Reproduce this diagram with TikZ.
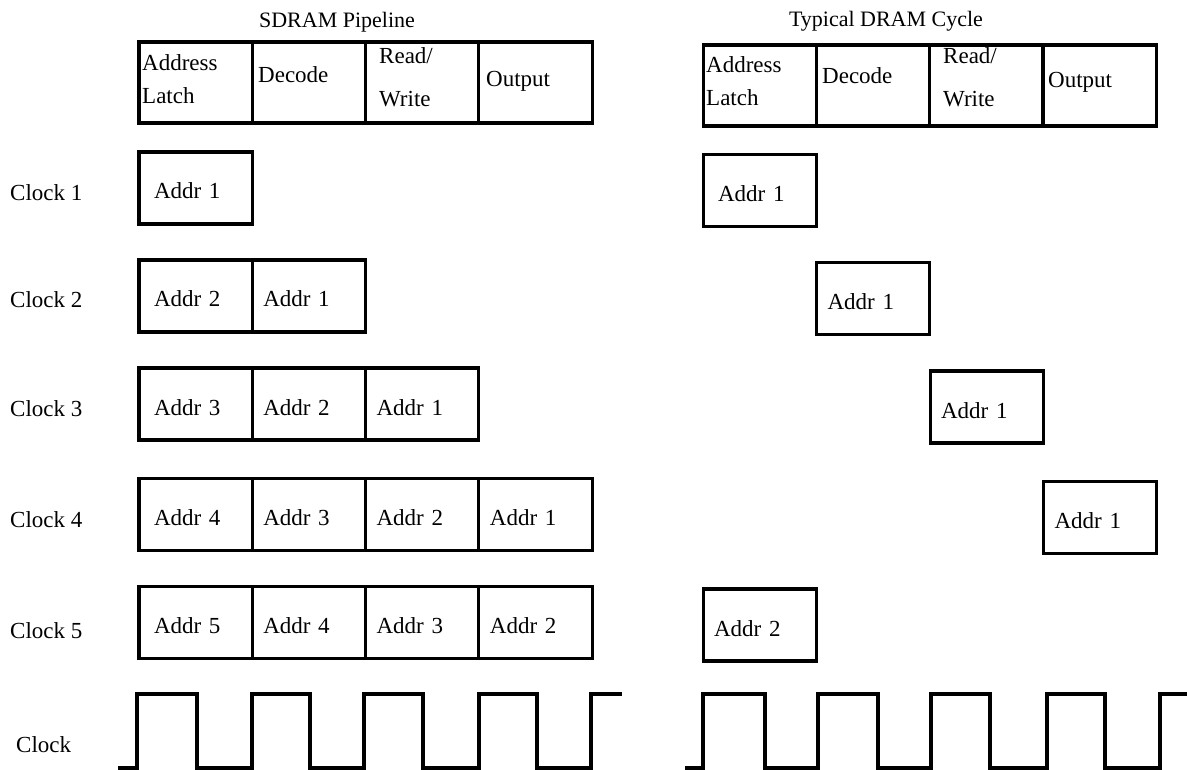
\documentclass[tikz,border=0pt]{standalone}
\usepackage{fontspec}
\setmainfont{Liberation Serif}
\usepackage{tikz}
\usetikzlibrary{positioning}
\tikzset{slot/.style={draw, line width=3.1pt, outer sep=0pt,
		minimum width=113.3pt, minimum height=72pt,
		text height=22pt, text depth=0pt,
		inner xsep=11pt, text width=91.3pt, align=left,
		font=\fontsize{23}{28}\selectfont},
	firstslot/.style={slot, inner xsep=15pt, text width=83.3pt},
	stage/.style={draw, line width=3.1pt, outer sep=0pt,
		minimum width=113.3pt, minimum height=81pt, inner sep=0pt},
	lbl/.style={inner sep=0pt, align=left, font=\fontsize{23}{33}\selectfont},
	title/.style={inner sep=0pt, font=\fontsize{22}{26}\selectfont},
	wave/.style={line width=3.1pt, line join=miter}
}

\begin{document}
\begin{tikzpicture}[x=1pt,y=-1pt]
\useasboundingbox (0,0) rectangle (1187,770);

            \node[title, anchor=base] (tsd) at (337,28) {SDRAM Pipeline};
            \node[title, anchor=base] (tdc) at (886,27) {Typical DRAM Cycle};

            % stage headers
            \node[stage] (sh1) at (195.65,82.5) {};
            \node[stage, right=0pt of sh1] (sh2) {};
            \node[stage, right=0pt of sh2] (sh3) {};
            \node[stage, right=0pt of sh3] (sh4) {};
            \node[stage] (dh1) at (759.75,85.5) {};
            \node[stage, right=0pt of dh1] (dh2) {};
            \node[stage, right=0pt of dh2] (dh3) {};
            \node[stage, right=0pt of dh3] (dh4) {};

 \node[lbl, anchor=north west] (sal) at (142,54.3) {Address\\Latch};
 \node[lbl, anchor=base west] (sdec) at (258,83) {Decode};
 \node[lbl, anchor=north west] (srw) at (379,47) {Read/\\[10pt]Write};
 \node[lbl, anchor=base west] (sout) at (486,87) {Output};
 \node[lbl, anchor=north west] (dal) at (706,56.3) {Address\\Latch};
 \node[lbl, anchor=base west] (ddec) at (822,84) {Decode};
 \node[lbl, anchor=north west] (drw) at (943,47) {Read/\\[10pt]Write};
 \node[lbl, anchor=base west] (dout) at (1048,88) {Output};

            \node[lbl, anchor=base west] (clk1) at (10,201) {Clock 1};
            \node[lbl, anchor=base west] (clk2) at (10,308) {Clock 2};
            \node[lbl, anchor=base west] (clk3) at (10,416) {Clock 3};
            \node[lbl, anchor=base west] (clk4) at (10,527) {Clock 4};
            \node[lbl, anchor=base west] (clk5) at (10,638) {Clock 5};
            \node[lbl, anchor=base west] (clk) at (16,752) {Clock};

            % pipeline
              \node[firstslot] (s11) at (195.65,188) {Addr 1};

              \node[firstslot] (s21) at (195.65,296) {Addr 2};
              \node[slot, right=0pt of s21] (s22) {Addr 1};

              \node[firstslot] (s31) at (195.65,404) {Addr 3};
              \node[slot, right=0pt of s31] (s32) {Addr 2};
              \node[slot, right=0pt of s32] (s33) {Addr 1};

              \node[firstslot] (s41) at (195.65,514.5) {Addr 4};
              \node[slot, right=0pt of s41] (s42) {Addr 3};
              \node[slot, right=0pt of s42] (s43) {Addr 2};
              \node[slot, right=0pt of s43] (s44) {Addr 1};

              \node[firstslot] (s51) at (195.65,622.5) {Addr 5};
              \node[slot, right=0pt of s51] (s52) {Addr 4};
              \node[slot, right=0pt of s52] (s53) {Addr 3};
              \node[slot, right=0pt of s53] (s54) {Addr 2};

            % plain DRAM
              \node[firstslot] (d1) at (759.75,190.5) {Addr 1};
              \node[slot] (d2) at (873.25,298.5) {Addr 1};
              \node[slot] (d3) at (986.75,407) {Addr 1};
              \node[slot] (d4) at (1100.25,517.5) {Addr 1};
              \node[slot] (d5) at (759.75,625) {Addr 2};

        \draw[wave] (118,768) -| (137,694) -| (197,768) -| (252,694) -| (310,768) -| (364,694) -| (423,768) -| (479,694) -| (537,768) -| (591,694) -- (622,694);
        \draw[wave] (685,768) -| (703,694) -| (765,768) -| (818,694) -| (878,768) -| (931,694) -| (990,768) -| (1047,694) -| (1105,768) -| (1160,694) -- (1187,694);
        \end{tikzpicture}
\end{document}
